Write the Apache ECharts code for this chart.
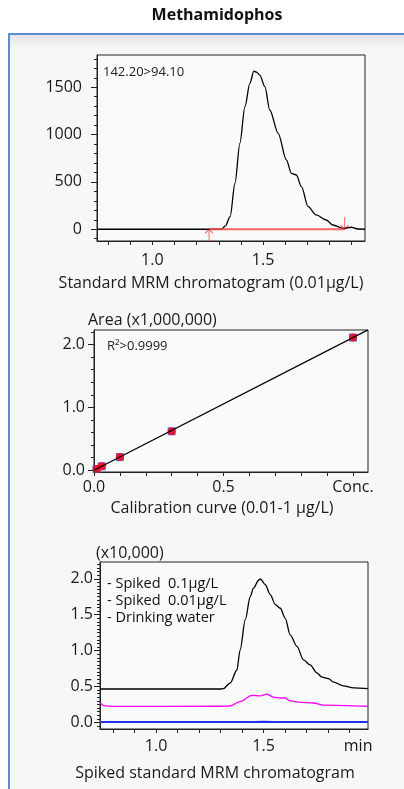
<!DOCTYPE html>
<html>
<head>
<meta charset="utf-8">
<script src="https://cdn.jsdelivr.net/npm/echarts@6/dist/echarts.min.js"></script>
<style>
html, body { margin: 0; padding: 0; background: #fff; }
#panel {
    position: absolute; left: 8px; top: 33px; width: 420px; height: 800px;
    border-left: 2px solid #5b8ed6; border-top: 2px solid #5b8ed6;
    background: linear-gradient(#e3e4e4 0px, #f6f7f7 14px, #f6f7f7 100%);
}
#chart { position: absolute; left: 0; top: 0; width: 404px; height: 789px; }
</style>
</head>
<body>
<div id="panel"></div>
<div id="chart"></div>
<script>
// standard MRM chromatogram (0.01 ug/L), 142.20>94.10
var stdTime   = [0.75, 1.30, 1.313, 1.33, 1.351, 1.373, 1.395, 1.418, 1.44, 1.458, 1.47, 1.485, 1.508, 1.53, 1.568, 1.605, 1.628, 1.65, 1.673, 1.703, 1.74, 1.785, 1.815, 1.86, 1.898, 1.928, 1.96];
var stdSignal = [0, 0, 2, 35, 133, 486, 908, 1295, 1541, 1671, 1660, 1629, 1506, 1260, 1013, 732, 591, 573, 450, 239, 151, 98, 45, 10, 21, 3, 0];
var integTime = [1.256, 1.868];   // integration start / end
var stdYLabels = [0, 500, 1000, 1500];
var stdYTicks  = [-100, 100, 200, 300, 400, 600, 700, 800, 900, 1100, 1200, 1300, 1400, 1600, 1700, 1800];
var stdXLabels = [1.0, 1.5];
var stdXTicks  = [0.8, 0.9, 1.0, 1.1, 1.2, 1.3, 1.4, 1.5, 1.6, 1.7, 1.8, 1.9];

// calibration curve (area x1,000,000)
var calConc = [0.01, 0.03, 0.1, 0.3, 1.0];
var calArea = [0.021, 0.064, 0.21, 0.62, 2.11];
var fitConc = [0, 1.058];
var fitArea = [0, 2.232];
var calYLabels = [0, 1, 2];
var calYTicks  = [0.2, 0.4, 0.6, 0.8, 1.2, 1.4, 1.6, 1.8, 2.2];
var calXLabels = [0, 0.5, 1.0];
var calXTicks  = [0, 0.1, 0.2, 0.3, 0.4, 0.5, 0.6, 0.7, 0.8, 0.9, 1.0];

// spiked samples (x10,000)
var seriesNames = ['Spiked  0.1μg/L', 'Spiked  0.01μg/L', 'Drinking water'];
var spk01Time = [0.739, 1.30, 1.313, 1.345, 1.376, 1.391, 1.415, 1.438, 1.453, 1.477, 1.485, 1.508, 1.531, 1.555, 1.578, 1.601, 1.624, 1.655, 1.686, 1.717, 1.748, 1.772, 1.802, 1.826, 1.872, 1.919, 1.986];
var spk01     = [0.465, 0.465, 0.47, 0.55, 0.73, 1.01, 1.43, 1.75, 1.87, 1.98, 2.0, 1.92, 1.78, 1.64, 1.59, 1.45, 1.22, 1.06, 0.87, 0.80, 0.69, 0.63, 0.61, 0.56, 0.51, 0.48, 0.47];
var spk001Time = [0.739, 0.762, 0.80, 1.30, 1.345, 1.391, 1.446, 1.485, 1.516, 1.547, 1.578, 1.601, 1.624, 1.671, 1.733, 1.779, 1.986];
var spk001     = [0.27, 0.23, 0.223, 0.225, 0.228, 0.29, 0.376, 0.37, 0.395, 0.35, 0.34, 0.34, 0.30, 0.28, 0.27, 0.24, 0.223];
var waterTime = [0.739, 1.40, 1.50, 1.60, 1.986];
var water     = [0.005, 0.006, 0.008, 0.006, 0.005];
var spkYLabels = [0, 0.5, 1.0, 1.5, 2.0];
var spkYTicks  = [-0.05, 0.05, 0.1, 0.15, 0.2, 0.25, 0.3, 0.35, 0.4, 0.45, 0.55, 0.6, 0.65, 0.7, 0.75, 0.8, 0.85, 0.9, 0.95,
                  1.05, 1.1, 1.15, 1.2, 1.25, 1.3, 1.35, 1.4, 1.45, 1.55, 1.6, 1.65, 1.7, 1.75, 1.8, 1.85, 1.9, 1.95, 2.05, 2.1, 2.15, 2.2];
var spkXLabels = [1.0, 1.5, 1.94];
var spkXTicks  = [0.8, 0.9, 1.0, 1.1, 1.2, 1.3, 1.4, 1.5, 1.6, 1.7, 1.8, 1.9];

function pairs(xs, ys) {
    var out = [];
    for (var i = 0; i < xs.length; i++) out.push([xs[i], ys[i]]);
    return out;
}

var FONT = 'Open Sans';
var axisColor = '#222';

function xAxisOf(grid, min, max, labels, ticks, margin, fmt) {
    return {
        type: 'value', gridIndex: grid, min: min, max: max,
        axisLine: { show: true, onZero: false, lineStyle: { color: axisColor } },
        axisTick: { show: true, length: 4, customValues: ticks, lineStyle: { color: axisColor } },
        axisLabel: { customValues: labels, margin: margin, color: '#1a1a1a', fontSize: 16, fontFamily: FONT, formatter: fmt },
        splitLine: { show: false }
    };
}
function yAxisOf(grid, min, max, labels, margin, fmt) {
    return {
        type: 'value', gridIndex: grid, min: min, max: max,
        axisLine: { show: true, onZero: false, lineStyle: { color: axisColor } },
        axisTick: { show: true, length: 6, customValues: labels, lineStyle: { color: axisColor } },
        axisLabel: { customValues: labels, margin: margin, color: '#1a1a1a', fontSize: 16, fontFamily: FONT, formatter: fmt },
        splitLine: { show: false }
    };
}
// second y axis on the same grid, only for the short minor ticks
function yMinorOf(grid, min, max, ticks) {
    return {
        type: 'value', gridIndex: grid, min: min, max: max, position: 'left',
        axisLine: { show: false, onZero: false },
        axisTick: { show: true, length: 3, customValues: ticks, lineStyle: { color: axisColor } },
        axisLabel: { show: false },
        splitLine: { show: false }
    };
}
function oneDec(v) { return v.toFixed(1); }

var myChart = echarts.init(document.getElementById('chart'));
var option = {
    backgroundColor: 'rgba(0,0,0,0)',
    animation: false,
    textStyle: { fontFamily: FONT },
    title: [
        { text: 'Methamidophos', left: 217, top: 7, textAlign: 'center', padding: 0,
          textStyle: { fontSize: 16, fontWeight: 'bold', color: '#111', fontFamily: FONT } },
        { text: '142.20>94.10', left: 103, top: 66, padding: 0, textStyle: { fontSize: 13, fontWeight: 'normal', color: '#222', fontFamily: FONT } },
        { text: 'Standard MRM chromatogram (0.01μg/L)', left: 211, top: 275, textAlign: 'center', padding: 0,
          textStyle: { fontSize: 16, fontWeight: 'normal', color: '#1a1a1a', fontFamily: FONT } },
        { text: 'Area (x1,000,000)', left: 88, top: 312, padding: 0, textStyle: { fontSize: 16, fontWeight: 'normal', color: '#1a1a1a', fontFamily: FONT } },
        { text: 'R²>0.9999', left: 107, top: 340, padding: 0, textStyle: { fontSize: 13, fontWeight: 'normal', color: '#222', fontFamily: FONT } },
        { text: 'Calibration curve (0.01-1 μg/L)', left: 222, top: 500, textAlign: 'center', padding: 0,
          textStyle: { fontSize: 16, fontWeight: 'normal', color: '#1a1a1a', fontFamily: FONT } },
        { text: '(x10,000)', left: 96, top: 545, padding: 0, textStyle: { fontSize: 16, fontWeight: 'normal', color: '#1a1a1a', fontFamily: FONT } },
        { text: 'Spiked standard MRM chromatogram', left: 215, top: 765, textAlign: 'center', padding: 0,
          textStyle: { fontSize: 16, fontWeight: 'normal', color: '#1a1a1a', fontFamily: FONT } }
    ],
    legend: {
        data: seriesNames,
        orient: 'vertical', left: 104, top: 575, padding: 0,
        icon: 'rect', itemWidth: 0, itemHeight: 0, itemGap: 0,
        selectedMode: false,
        formatter: function (name) { return '- ' + name; },
        textStyle: { fontSize: 14.5, color: '#111', fontFamily: FONT, lineHeight: 17, padding: [0, 0, 0, -2] }
    },
    grid: [
        { left: 97, top: 55, width: 268, height: 186, show: true, borderColor: axisColor, borderWidth: 1, backgroundColor: '#f9fafa' },
        { left: 94, top: 330, width: 274, height: 142, show: true, borderColor: axisColor, borderWidth: 1, backgroundColor: '#f9fafa' },
        { left: 100, top: 562, width: 268, height: 167, show: true, borderColor: axisColor, borderWidth: 1, backgroundColor: '#f9fafa' }
    ],
    xAxis: [
        xAxisOf(0, 0.75, 1.96, stdXLabels, stdXTicks, 11, oneDec),
        xAxisOf(1, 0, 1.058, calXLabels, calXTicks, 7, function (v) { return v >= 1 ? 'Conc.' : v.toFixed(1); }),
        xAxisOf(2, 0.739, 1.986, spkXLabels, spkXTicks, 9, function (v) { return v > 1.9 ? 'min' : v.toFixed(1); })
    ],
    yAxis: [
        yAxisOf(0, -124, 1841, stdYLabels, 15, function (v) { return String(v); }),
        yMinorOf(0, -124, 1841, stdYTicks),
        yAxisOf(1, -0.027, 2.23, calYLabels, 9, oneDec),
        yMinorOf(1, -0.027, 2.23, calYTicks),
        yAxisOf(2, -0.092, 2.234, spkYLabels, 7, oneDec),
        yMinorOf(2, -0.092, 2.234, spkYTicks)
    ],
    series: [
        {
            type: 'line', xAxisIndex: 0, yAxisIndex: 0,
            data: pairs(stdTime, stdSignal),
            smooth: 0.3, smoothMonotone: 'x', showSymbol: false,
            lineStyle: { color: '#000', width: 1.3 }
        },
        {
            type: 'line', xAxisIndex: 0, yAxisIndex: 0,
            data: pairs(integTime, [0, 0]),
            showSymbol: false,
            lineStyle: { color: 'rgba(255,70,70,0.85)', width: 2 }
        },
        {
            type: 'scatter', xAxisIndex: 0, yAxisIndex: 0,
            data: [
                { value: [integTime[0], 0], symbol: 'path://M0,4 L4,0 L8,4 M4,0 L4,12', symbolOffset: [0, '50%'] },
                { value: [integTime[1], 0], symbol: 'path://M4,0 L4,12 M0,8 L4,12 L8,8', symbolOffset: [0, '-50%'] }
            ],
            symbolSize: [8, 12],
            itemStyle: { color: 'rgba(0,0,0,0)', borderColor: '#ff4040', borderWidth: 1.2 }
        },
        {
            type: 'line', xAxisIndex: 1, yAxisIndex: 2,
            data: pairs(fitConc, fitArea),
            showSymbol: false,
            lineStyle: { color: '#000', width: 1.2 }
        },
        {
            type: 'scatter', xAxisIndex: 1, yAxisIndex: 2,
            data: pairs(calConc, calArea),
            symbol: 'rect', symbolSize: 8,
            itemStyle: { color: '#4a4aff' }
        },
        {
            type: 'scatter', xAxisIndex: 1, yAxisIndex: 2,
            data: pairs(calConc, calArea),
            symbol: 'circle', symbolSize: 8,
            itemStyle: { color: '#ff0000' }
        },
        {
            name: seriesNames[0], type: 'line', xAxisIndex: 2, yAxisIndex: 4,
            data: pairs(spk01Time, spk01),
            smooth: 0.3, smoothMonotone: 'x', showSymbol: false,
            itemStyle: { color: '#000' },
            lineStyle: { color: '#000', width: 1.3 }
        },
        {
            name: seriesNames[1], type: 'line', xAxisIndex: 2, yAxisIndex: 4,
            data: pairs(spk001Time, spk001),
            smooth: 0.3, smoothMonotone: 'x', showSymbol: false,
            itemStyle: { color: '#ff00ff' },
            lineStyle: { color: '#ff00ff', width: 1.3 }
        },
        {
            name: seriesNames[2], type: 'line', xAxisIndex: 2, yAxisIndex: 4,
            data: pairs(waterTime, water),
            smooth: 0.3, showSymbol: false,
            itemStyle: { color: '#2233ee' },
            lineStyle: { color: '#2233ee', width: 2 }
        }
    ]
};
myChart.setOption(option);
</script>
</body>
</html>
